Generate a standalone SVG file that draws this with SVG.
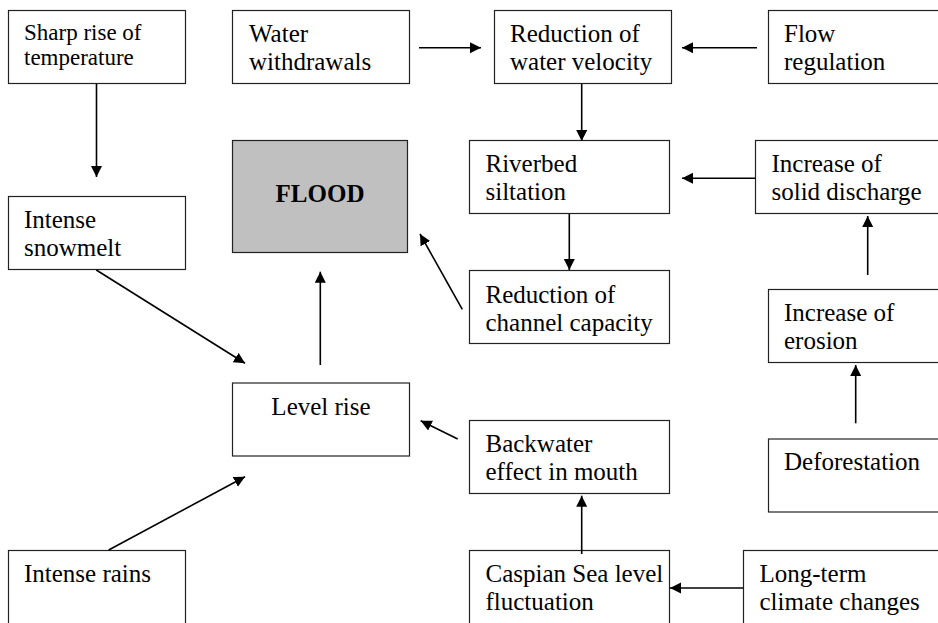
<svg xmlns="http://www.w3.org/2000/svg" width="938" height="623" viewBox="0 0 938 623">
<style>
.box{fill:#fff;stroke:#222;stroke-width:1.2}
.flood{fill:#c0c0c0;stroke:#222;stroke-width:1.2}
text{font-family:"Liberation Serif","Times New Roman","DejaVu Serif",serif;font-size:25px;fill:#000}
.s{font-size:23px}
.b{font-weight:bold}
.c line{stroke:#000;stroke-width:1.6;marker-end:url(#ah)}
</style>
<defs>
<marker id="ah" markerUnits="userSpaceOnUse" markerWidth="12" markerHeight="12" refX="11" refY="5.5" orient="auto">
<path d="M0,0 L11,5.5 L0,11 z" fill="#000"/>
</marker>
</defs>
<rect width="938" height="623" fill="#fff"/>
<g id="sharp"><rect class="box" x="8.5" y="10.5" width="177" height="73"/><text class="s" x="24" y="40">Sharp rise of</text><text class="s" x="24" y="65">temperature</text></g>
<g id="water"><rect class="box" x="232.5" y="10.5" width="177" height="73"/><text x="249" y="41.5">Water</text><text x="249" y="69.5">withdrawals</text></g>
<g id="redvel"><rect class="box" x="494.5" y="10.5" width="177" height="73"/><text x="510" y="41.5">Reduction of</text><text x="510" y="69.5">water velocity</text></g>
<g id="flowreg"><rect class="box" x="768.5" y="10.5" width="180" height="73"/><text x="784" y="41.5">Flow</text><text x="784" y="69.5">regulation</text></g>
<g id="flood"><rect class="flood" x="232.5" y="140.5" width="175" height="112"/><text class="b" x="320" y="201.5" text-anchor="middle">FLOOD</text></g>
<g id="riverbed"><rect class="box" x="469.5" y="140.5" width="200" height="73"/><text x="485.5" y="171.5">Riverbed</text><text x="485.5" y="200">siltation</text></g>
<g id="solid"><rect class="box" x="755.5" y="140.5" width="193" height="73"/><text x="771.5" y="171.5">Increase of</text><text x="771.5" y="200">solid discharge</text></g>
<g id="snowmelt"><rect class="box" x="8.5" y="196.5" width="177" height="73"/><text x="24" y="228">Intense</text><text x="24" y="256">snowmelt</text></g>
<g id="channel"><rect class="box" x="469.5" y="270.5" width="200" height="73"/><text x="485.5" y="302.5">Reduction of</text><text x="485.5" y="330.5">channel capacity</text></g>
<g id="erosion"><rect class="box" x="768.5" y="289.5" width="180" height="73"/><text x="784" y="320.5">Increase of</text><text x="784" y="349">erosion</text></g>
<g id="level"><rect class="box" x="232.5" y="383" width="177" height="73"/><text x="321" y="415" text-anchor="middle">Level rise</text></g>
<g id="backwater"><rect class="box" x="469.5" y="420.5" width="200" height="73"/><text x="485.5" y="451.5">Backwater</text><text x="485.5" y="480">effect in mouth</text></g>
<g id="defor"><rect class="box" x="768.5" y="439" width="180" height="73"/><text x="784" y="470">Deforestation</text></g>
<g id="rains"><rect class="box" x="8.5" y="550.5" width="177" height="80"/><text x="24" y="581.5">Intense rains</text></g>
<g id="caspian"><rect class="box" x="469.5" y="550.5" width="200" height="80"/><text x="485.5" y="581.5">Caspian Sea level</text><text x="485.5" y="610">fluctuation</text></g>
<g id="climate"><rect class="box" x="743.5" y="550.5" width="205" height="80"/><text x="759.5" y="581.5">Long-term</text><text x="759.5" y="610">climate changes</text></g>
<g class="c" id="connectors">
<line x1="96.5" y1="84" x2="96.5" y2="177"/>
<line x1="419" y1="47.7" x2="481" y2="47.7"/>
<line x1="757" y1="47.7" x2="682" y2="47.7"/>
<line x1="581.7" y1="84" x2="581.7" y2="141"/>
<line x1="755.5" y1="178.3" x2="682" y2="178.3"/>
<line x1="569.3" y1="214" x2="569.3" y2="270"/>
<line x1="867.7" y1="275" x2="867.7" y2="216"/>
<line x1="855.7" y1="423.3" x2="855.7" y2="365"/>
<line x1="96.3" y1="270" x2="245" y2="363.3"/>
<line x1="320.3" y1="365" x2="320.3" y2="271.7"/>
<line x1="462.3" y1="309.3" x2="420" y2="234"/>
<line x1="457.7" y1="439" x2="420.7" y2="420.7"/>
<line x1="108.7" y1="550" x2="245" y2="476.7"/>
<line x1="581.7" y1="554" x2="581.7" y2="495.7"/>
<line x1="743.3" y1="588" x2="670" y2="588"/>
</g>
</svg>
